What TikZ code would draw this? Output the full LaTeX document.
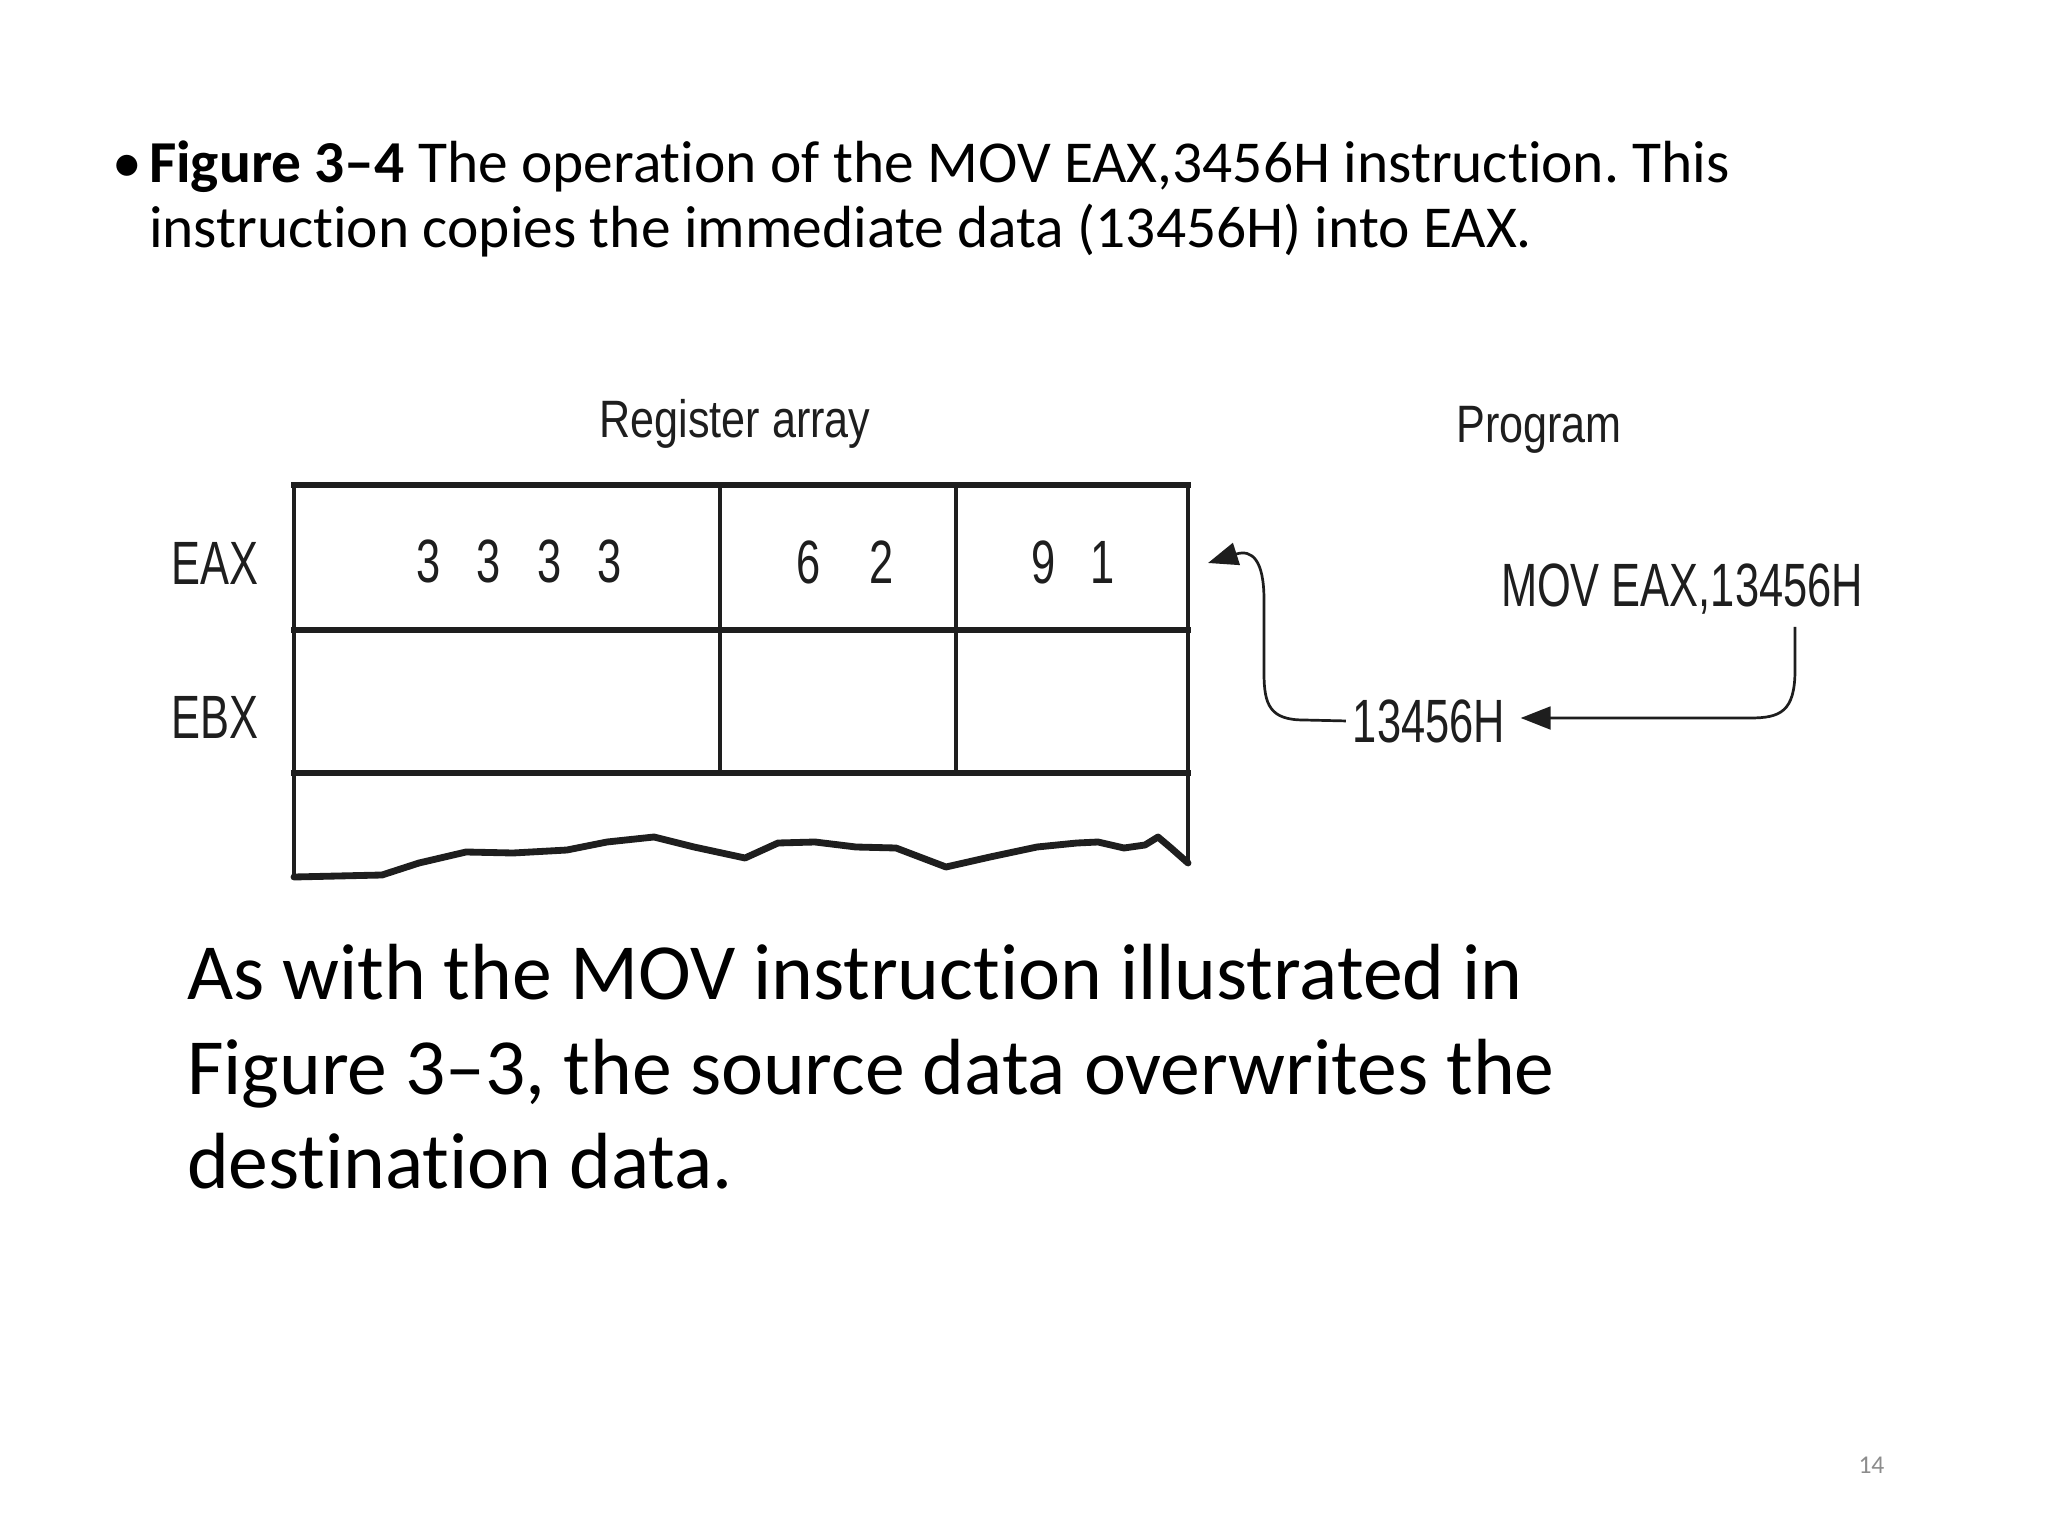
\documentclass[tikz,border=0pt]{standalone}
\usepackage{fontspec}
\setmainfont{Carlito}[Ligatures=NoCommon]
\newfontfamily\labfont[FakeStretch=0.71]{Liberation Sans}
\newfontfamily\headfont[FakeStretch=0.82]{Liberation Sans}
\usetikzlibrary{arrows.meta}
\definecolor{pagegray}{HTML}{8C8C8C}
\definecolor{ink}{HTML}{1E1E1E}
\tikzset{
  txt/.style={inner sep=0pt, outer sep=0pt, anchor=base west},
  titletxt/.style={txt, font=\fontsize{20.9}{25}\selectfont},
  bodytxt/.style={txt, font=\fontsize{28}{33.6}\selectfont},
  lab/.style={inner sep=0pt, outer sep=0pt, anchor=base, text=ink, font=\labfont\fontsize{21.5}{24}\selectfont},
  head/.style={inner sep=0pt, outer sep=0pt, anchor=base, text=ink, font=\headfont\fontsize{18.5}{22}\selectfont},
  heavyrule/.style={draw=ink, line width=2.2pt, line cap=rect},
  lightrule/.style={draw=ink, line width=1.45pt},
  conn/.style={draw=ink, line width=0.95pt, -{Triangle[length=10.5pt,width=8pt]}},
}
\begin{document}
\frenchspacing
\begin{tikzpicture}[x=0.3515625pt,y=-0.3515625pt]
\useasboundingbox[fill=white] (0,0) rectangle (2048,1536);

% title
\node[titletxt] (bul) at (112,183) {•};
\node[titletxt] (t1) at (149,183) {\textbf{Figure 3–4} The operation of the MOV EAX,3456H instruction. This};
\node[titletxt] (t2) at (149,248) {instruction copies the immediate data (13456H) into EAX.};

% headings
\node[head] (rega) at (735,438) {Register array};
\node[head] (prog) at (1539,443) {Program};

% register labels
\node[lab] (eax) at (215,585) {EAX};
\node[lab] (ebx) at (215,738) {EBX};

% digits
\node[lab] (d1) at (429,583) {3};
\node[lab] (d2) at (489,583) {3};
\node[lab] (d3) at (550,583) {3};
\node[lab] (d4) at (610,583) {3};
\node[lab] (d5) at (809,584) {6};
\node[lab] (d6) at (882,584) {2};
\node[lab] (d7) at (1044,584) {9};
\node[lab] (d8) at (1103,584) {1};

% table
\draw[lightrule] (294,485) -- (294,877);
\draw[lightrule] (1188,485) -- (1188,863);
\draw[lightrule] (720,485) -- (720,773);
\draw[lightrule] (956,485) -- (956,773);
\draw[heavyrule] (294,485) -- (1188,485);
\draw[heavyrule] (294,630) -- (1188,630);
\draw[heavyrule] (294,773) -- (1188,773);
\draw[draw=ink, line width=2.4pt, line join=round, line cap=round]
  (294,877) -- (382,875) -- (419,863) -- (466,852) -- (513,853) -- (567,850)
  -- (607,842) -- (654,837) -- (694,847) -- (745,858) -- (778,843) -- (815,842)
  -- (856,847) -- (896,848) -- (946,867) -- (990,857) -- (1037,847) -- (1077,843)
  -- (1098,842) -- (1124,848) -- (1145,845) -- (1158,837) -- (1171,848) -- (1188,863);

% program
\node[lab] (mov) at (1682,607) {MOV EAX,13456H};
\node[lab] (imm) at (1429,742) {13456H};
\coordinate (movsrc) at (1795,627);
\coordinate (eaxin) at (1208,563);

\draw[conn] (movsrc) -- (1795,670) .. controls (1795,712) and (1780,718) .. (1750,718) -- ([xshift=5.5pt]imm.east |- 0,718);
\draw[conn] ([xshift=-2.5pt]imm.west) -- (1304,720) .. controls (1270,720) and (1264,705) .. (1264,673)
  -- (1264,600) .. controls (1264,560) and (1252,549) .. (eaxin);

% body
\node[bodytxt] (b1) at (187,999) {As with the MOV instruction illustrated in};
\node[bodytxt] (b2) at (187,1094) {Figure 3–3, the source data overwrites the};
\node[bodytxt] (b3) at (187,1188) {destination data.};

% page number
\node[inner sep=0pt, anchor=base east, text=pagegray, font=\fontsize{9}{11}\selectfont] (pg) at (1885,1473) {14};
\end{tikzpicture}
\end{document}
